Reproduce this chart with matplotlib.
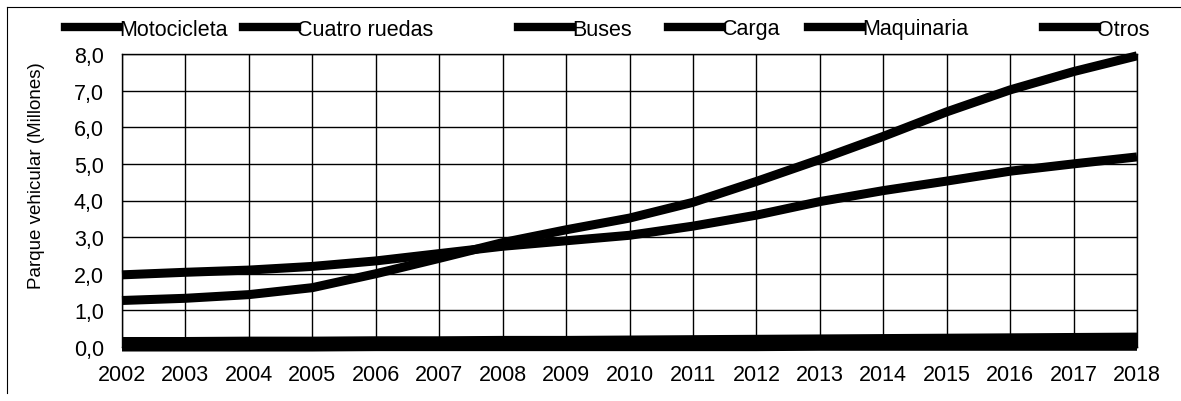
import matplotlib
matplotlib.use('Agg')
import matplotlib.pyplot as plt
from matplotlib.lines import Line2D

plt.rcParams['font.family'] = ['Liberation Sans', 'DejaVu Sans']

# Parque vehicular por tipo (millones)
years = list(range(2002, 2019))
motocicleta = [1.27, 1.33, 1.43, 1.62, 2.0, 2.42, 2.85, 3.2, 3.52, 3.95, 4.52, 5.12, 5.75, 6.42, 7.02, 7.52, 7.95]
cuatro_ruedas = [1.97, 2.04, 2.1, 2.2, 2.35, 2.55, 2.75, 2.9, 3.05, 3.3, 3.6, 3.97, 4.27, 4.53, 4.8, 5.0, 5.19]
buses = [0.1, 0.1, 0.11, 0.11, 0.12, 0.12, 0.13, 0.13, 0.14, 0.14, 0.15, 0.15, 0.16, 0.16, 0.17, 0.17, 0.18]
carga = [0.15, 0.15, 0.16, 0.16, 0.17, 0.17, 0.18, 0.18, 0.19, 0.2, 0.21, 0.22, 0.23, 0.24, 0.25, 0.26, 0.27]
maquinaria = [0.0, 0.0, 0.0, 0.0, 0.01, 0.01, 0.01, 0.01, 0.01, 0.01, 0.01, 0.02, 0.02, 0.02, 0.02, 0.02, 0.02]
otros = [0.03, 0.03, 0.03, 0.03, 0.04, 0.04, 0.04, 0.04, 0.05, 0.05, 0.05, 0.05, 0.05, 0.06, 0.06, 0.06, 0.06]

series = [('Motocicleta', motocicleta), ('Cuatro ruedas', cuatro_ruedas),
          ('Buses', buses), ('Carga', carga), ('Maquinaria', maquinaria), ('Otros', otros)]
yticks = [0, 1, 2, 3, 4, 5, 6, 7, 8]
legend_x = [65, 243, 518, 668, 808, 1043]  # inicio de cada entrada (px)

W, H = 1181, 402
fig = plt.figure(figsize=(W / 100, H / 100), dpi=100)
ax = fig.add_axes([122 / W, 1 - 348 / H, (1137 - 122) / W, (348 - 55) / H])

lines = []
for name, vals in series:
    ln, = ax.plot(years, vals, color='black', linewidth=6.5, solid_capstyle='butt',
                  solid_joinstyle='round', label=name, zorder=3, clip_on=False)
    lines.append(ln)

ax.set_xlim(2002, 2018)
ax.set_ylim(0, 8)
ax.set_xticks(years)
ax.set_yticks(yticks)
ax.set_yticklabels([f'{v:.1f}'.replace('.', ',') for v in yticks])
ax.tick_params(length=0, labelsize=15.5)
ax.tick_params(axis='x', pad=12)
ax.tick_params(axis='y', pad=13)
ax.grid(True, color='black', linewidth=1)
for s in ax.spines.values():
    s.set_color('black')
    s.set_linewidth(1)
ax.set_ylabel('Parque vehicular (Millones)', fontsize=13.5)
ax.yaxis.set_label_coords(-0.0759, 0.587)

# leyenda, una entrada por posicion
for (name, _), ln, x in zip(series, lines, legend_x):
    h = Line2D([], [], color='black', linewidth=6)
    fig.legend([h], [name], loc='center left', bbox_to_anchor=(x / W, 1 - 30 / H),
               frameon=False, fontsize=15.5, handlelength=2.5, handletextpad=0.0,
               borderpad=0, borderaxespad=0)

# marco de la figura
fig.add_artist(Line2D([7 / W, 7 / W], [0.02, 1 - 8 / H], color='black', linewidth=0.8))
fig.add_artist(Line2D([7 / W, 1.0], [1 - 8 / H, 1 - 8 / H], color='black', linewidth=0.8))

plt.savefig('out.png', dpi=100)
